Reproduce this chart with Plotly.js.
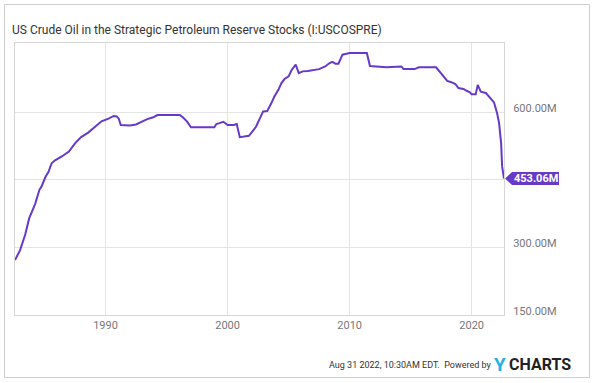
<!DOCTYPE html>
<html>
<head>
<meta charset="utf-8">
<script src="https://cdn.plot.ly/plotly-3.0.1.min.js"></script>
<style>
html,body{margin:0;padding:0;background:#fff;}
#chart{width:593px;height:383px;}
</style>
</head>
<body>
<div id="chart"></div>
<script>
const dates = ["1982-08","1983-01","1983-06","1983-10","1984-02","1984-04","1984-08","1984-10","1985-02","1985-05","1985-08","1985-11","1986-06","1987-01","1987-07","1988-01","1988-08","1989-03","1989-09","1990-04","1990-09","1990-12","1991-02","1991-04","1992-01","1992-07","1992-11","1993-04","1993-06","1993-12","1994-04","1996-02","1996-05","1996-09","1997-01","1998-12","1999-02","1999-05","1999-09","2000-01","2000-07","2000-10","2001-01","2001-10","2002-05","2002-12","2003-04","2003-08","2003-11","2004-03","2004-06","2004-09","2005-01","2005-04","2005-08","2005-11","2006-03","2006-08","2007-07","2008-01","2008-05","2008-08","2008-11","2009-02","2009-06","2010-01","2011-06","2011-09","2012-09","2013-01","2014-04","2014-06","2015-05","2015-09","2017-02","2017-07","2018-01","2018-05","2018-09","2018-12","2019-05","2019-08","2019-11","2020-01","2020-05","2020-07","2020-10","2021-03","2021-06","2021-09","2021-11","2022-02","2022-04","2022-06","2022-07","2022-08-26"];
const stocks = [272,294,328,365,387,398,428,435,457,468,487,493,502,513,531,545,555,568,580,586,592,591,586,572,571,573,577,582,585,589,594,594,589,580,567,567,574,576,579,572,572,574,545,548,568,602,603,620,635,650,665,674,680,694,706,687,691,692,696,702,709,712,708,708,728,731.6,731.6,703,702,700,702,696,696,700,700,687,670,667,663,654,652,648,645,640,640,661,646,643,635,626,622,598,576,531,480,453.06];
const yTickVals = [150,300,450,600];
const yTickText = ["150.00M","300.00M","","600.00M"];
const xTickVals = ["1990-01-01","2000-01-01","2010-01-01","2020-01-01"];
const xTickText = ["1990","2000","2010","2020"];
const lastLabel = "453.06M";

const purple = "#6739c9";
const yMin = 150, yMax = 754;
const W = 593, H = 383, mL = 15, mR = 89, mT = 43, mB = 68;
const pw = W - mL - mR, ph = H - mT - mB;
const px = v => (v - mL) / pw;           // pixel x -> paper
const py = v => (H - mB - v) / ph;       // pixel y -> paper
const lastVal = stocks[stocks.length - 1];
const ly = (lastVal - yMin) / (yMax - yMin);
const hh = 6.5 / ph;

const trace = {
  x: dates, y: stocks, type: "scatter", mode: "lines",
  line: {color: purple, width: 2}, hoverinfo: "skip"
};

const layout = {
  width: W, height: H,
  margin: {l: mL, r: mR, t: mT, b: mB},
  paper_bgcolor: "#fff", plot_bgcolor: "#fff",
  showlegend: false,
  font: {family: "Roboto, 'DejaVu Sans', sans-serif", color: "#666", size: 11},
  title: {
    text: "US Crude Oil in the Strategic Petroleum Reserve Stocks (I:USCOSPRE)",
    font: {family: "Roboto, sans-serif", size: 12, color: "#333"},
    xref: "container", yref: "container",
    x: 12 / W, xanchor: "left", y: 1 - 30 / H, yanchor: "middle"
  },
  xaxis: {
    type: "date", range: ["1982-08-01", "2022-08-26"],
    tickvals: xTickVals, ticktext: xTickText, ticks: "",
    showgrid: true, gridcolor: "#e4e4e4", gridwidth: 1,
    showline: true, linecolor: "#d6d6d6", linewidth: 1, mirror: true,
    zeroline: false, tickfont: {size: 11, color: "#777"}
  },
  yaxis: {
    side: "right", range: [yMin, yMax],
    tickvals: yTickVals, ticktext: yTickText, ticks: "",
    ticklabelstandoff: 6, ticklabelshift: -4,
    showgrid: true, gridcolor: "#e4e4e4", gridwidth: 1,
    showline: true, linecolor: "#d6d6d6", linewidth: 1, mirror: true,
    zeroline: false, tickfont: {size: 11, color: "#777"}
  },
  shapes: [
    {type: "rect", xref: "paper", yref: "paper",
     x0: px(4.5), x1: px(589.5), y0: py(377.5), y1: py(4.5),
     line: {color: "#cfcfcf", width: 1}, fillcolor: "rgba(0,0,0,0)"},
    {type: "path", xref: "paper", yref: "paper",
     path: `M ${px(505)},${ly} L ${px(512)},${ly + hh} L ${px(559)},${ly + hh} L ${px(559)},${ly - hh} L ${px(512)},${ly - hh} Z`,
     fillcolor: purple, line: {width: 0}}
  ],
  annotations: [
    {xref: "paper", yref: "paper", x: px(535.5), y: ly, xanchor: "center", yanchor: "middle",
     text: "<b>" + lastLabel + "</b>", showarrow: false,
     font: {family: "Roboto, sans-serif", size: 11, color: "#fff"}},
    {xref: "paper", yref: "paper", x: px(494), y: py(365), xanchor: "right", yanchor: "middle",
     text: "Aug 31 2022, 10:30AM EDT.  Powered by", showarrow: false,
     font: {family: "Roboto, sans-serif", size: 9, color: "#333"}},
    {xref: "paper", yref: "paper", x: px(492), y: py(364), xanchor: "left", yanchor: "middle",
     text: "<b>Y</b>", showarrow: false,
     font: {family: "Roboto, sans-serif", size: 19, color: "#1fb3e4"}},
    {xref: "paper", yref: "paper", x: px(507), y: py(364.5), xanchor: "left", yanchor: "middle",
     text: "<b>CHARTS</b>", showarrow: false,
     font: {family: "Roboto, sans-serif", size: 16, color: "#222"}}
  ]
};

Plotly.newPlot("chart", [trace], layout, {staticPlot: true, displayModeBar: false});
</script>
</body>
</html>
